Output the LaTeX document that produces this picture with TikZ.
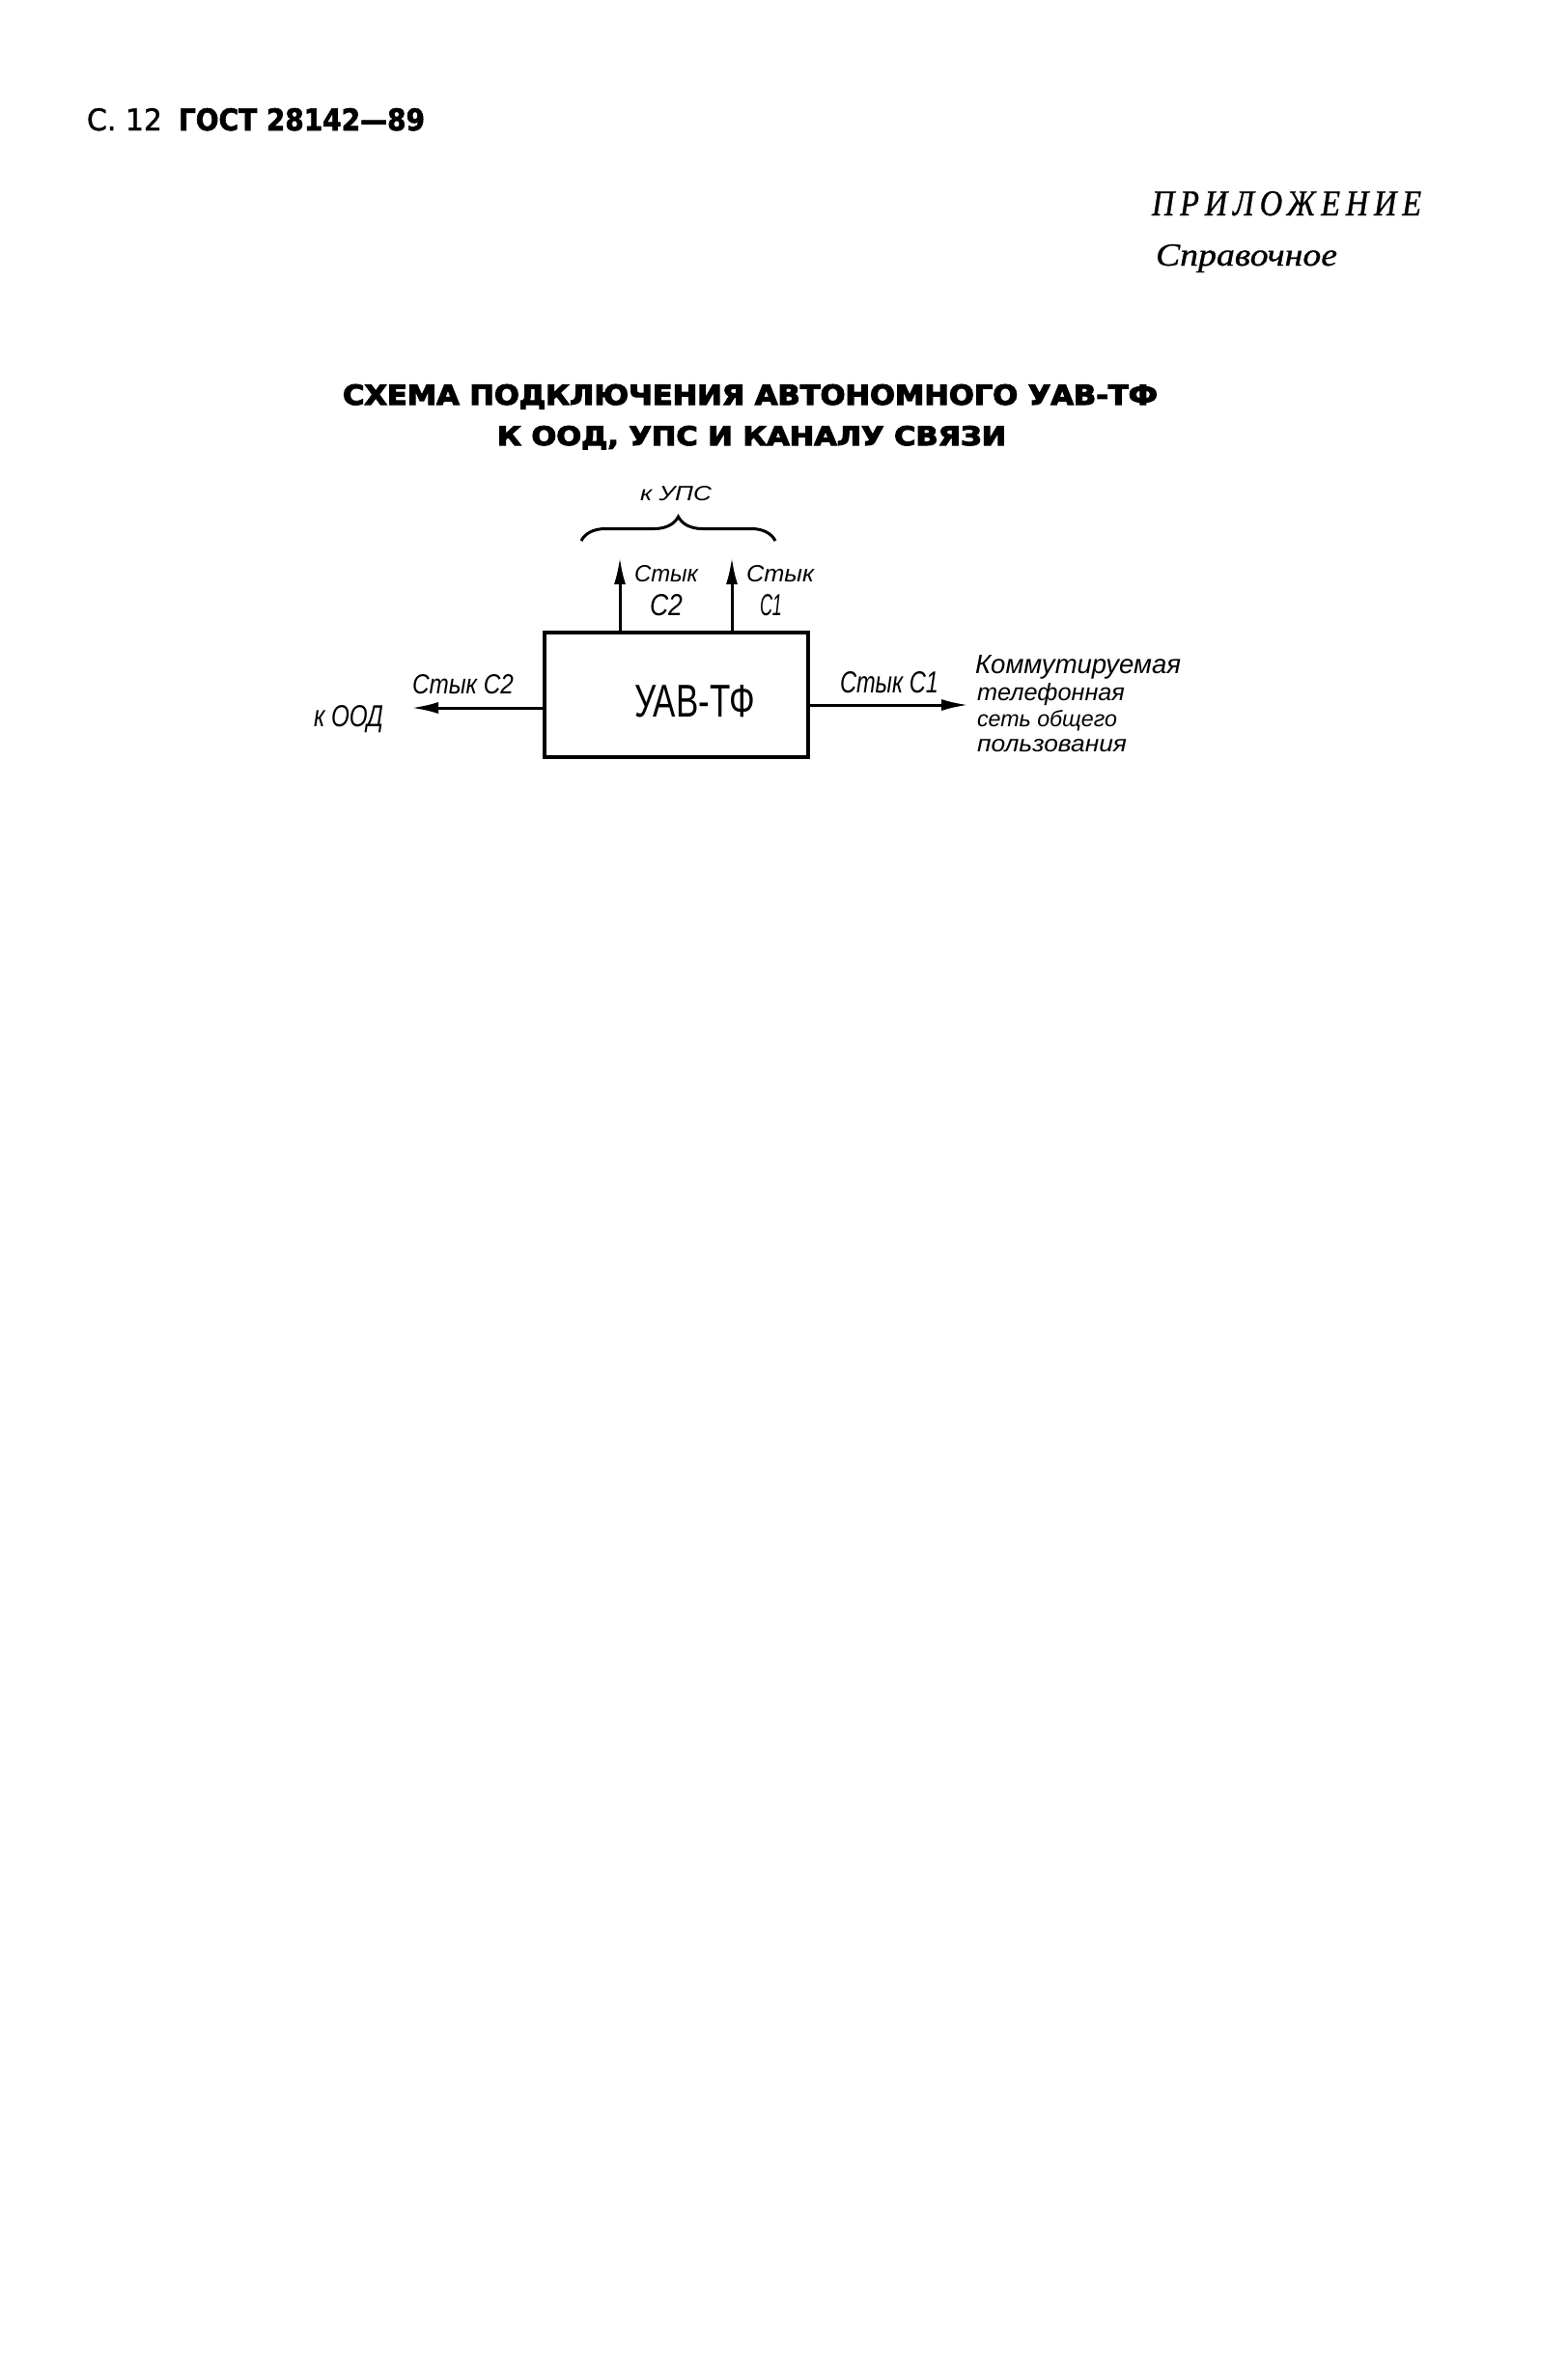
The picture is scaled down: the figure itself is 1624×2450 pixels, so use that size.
\documentclass[tikz,border=0pt]{standalone}
\usepackage{fontspec}
\usepackage{graphicx}
\usetikzlibrary{arrows.meta,decorations.pathreplacing}
\setmainfont{Liberation Serif}
\newfontfamily\hdrfont[FakeBold=1.2]{DejaVu Sans}
\newfontfamily\hdrboldfont[FakeBold=2]{DejaVu Sans Bold}
\newfontfamily\ttlfont[FakeBold=4]{DejaVu Sans Bold}
\newfontfamily\spacedserif[LetterSpace=18,FakeBold=1]{Liberation Serif Italic}
\newfontfamily\spravfont[FakeBold=0.8]{Liberation Serif Italic}
\newfontfamily\gostfont{Liberation Sans}
\newcommand{\fitto}[3]{\resizebox{#1pt}{#2pt}{#3}}
\tikzset{
  txt/.style={inner sep=0pt, outer sep=0pt, anchor=base west},
  conn/.style={line width=3pt, -{Latex[length=28pt,width=12pt]}},
  blockbox/.style={draw, line width=4.5pt, inner sep=0pt, minimum width=273pt, minimum height=129pt},
}
\begin{document}
\begin{tikzpicture}[x=1pt,y=1pt]
\fill[white] (0,0) rectangle (1624,-2450);
\useasboundingbox (0,0) rectangle (1624,-2450);

% header
\node[txt] (hdrA) at (90,-135) {\fitto{78}{23}{\hdrfont С. 12}};
\node[txt] (hdrB) at (185,-135) {\fitto{255}{23}{\hdrboldfont ГОСТ 28142—89}};

% appendix
\node[txt] (pril) at (1193,-223) {\fitto{279}{25}{\spacedserif ПРИЛОЖЕНИЕ}};
\node[txt] (sprav) at (1197,-275) {\fitto{188}{22}{\spravfont Справочное}};

% title
\node[txt] (title1) at (355,-419) {\fitto{844}{21}{\ttlfont СХЕМА ПОДКЛЮЧЕНИЯ АВТОНОМНОГО УАВ-ТФ}};
\node[txt] (title2) at (515,-461) {\fitto{527}{20}{\ttlfont К ООД, УПС И КАНАЛУ СВЯЗИ}};

% block
\node[blockbox] (box) at (700.5,-719.5) {};
\node[txt] (boxlbl) at (657,-742) {\fitto{125}{33}{\gostfont УАВ-ТФ}};

% left connector
\coordinate (oodtip) at (426,-733);
\draw[conn] (box.west |- oodtip) -- (oodtip);
\node[txt] (lstyk) at (427,-718) {\fitto{105}{20}{\gostfont\itshape Стык С2}};
\node[txt] (ood) at (325,-752) {\fitto{72}{22}{\gostfont\itshape к ООД}};

% right connector
\coordinate (nettip) at (1003,-730);
\draw[conn] (box.east |- nettip) -- (nettip);
\node[txt] (rstyk) at (870,-717) {\fitto{102}{22}{\gostfont\itshape Стык С1}};
\node[txt] (net1) at (1010,-697) {\fitto{213}{19}{\gostfont\itshape Коммутируемая}};
\node[txt] (net2) at (1012,-725) {\fitto{153}{18}{\gostfont\itshape телефонная}};
\node[txt] (net3) at (1012,-752) {\fitto{145}{17}{\gostfont\itshape сеть общего}};
\node[txt] (net4) at (1012,-778) {\fitto{155}{13}{\gostfont\itshape пользования}};

% upward connectors
\coordinate (uptipA) at (642,-577);
\coordinate (uptipB) at (758,-577);
\draw[conn] (box.north -| uptipA) -- (uptipA);
\draw[conn] (box.north -| uptipB) -- (uptipB);
\node[txt] (ustykA) at (657,-602) {\fitto{66}{17}{\gostfont\itshape Стык}};
\node[txt] (ucA) at (673,-637) {\fitto{34}{22}{\gostfont\itshape С2}};
\node[txt] (ustykB) at (773,-602) {\fitto{70}{17}{\gostfont\itshape Стык}};
\node[txt] (ucB) at (787,-637) {\fitto{23}{22}{\gostfont\itshape С1}};

% brace
\coordinate (brL) at (602,-560);
\coordinate (brR) at (803,-560);
\draw[line width=3pt, decorate, decoration={brace, amplitude=25pt}] (brL) -- (brR);
\node[txt] (ups) at (663,-518) {\fitto{74}{15}{\gostfont\itshape к УПС}};
\end{tikzpicture}
\end{document}
